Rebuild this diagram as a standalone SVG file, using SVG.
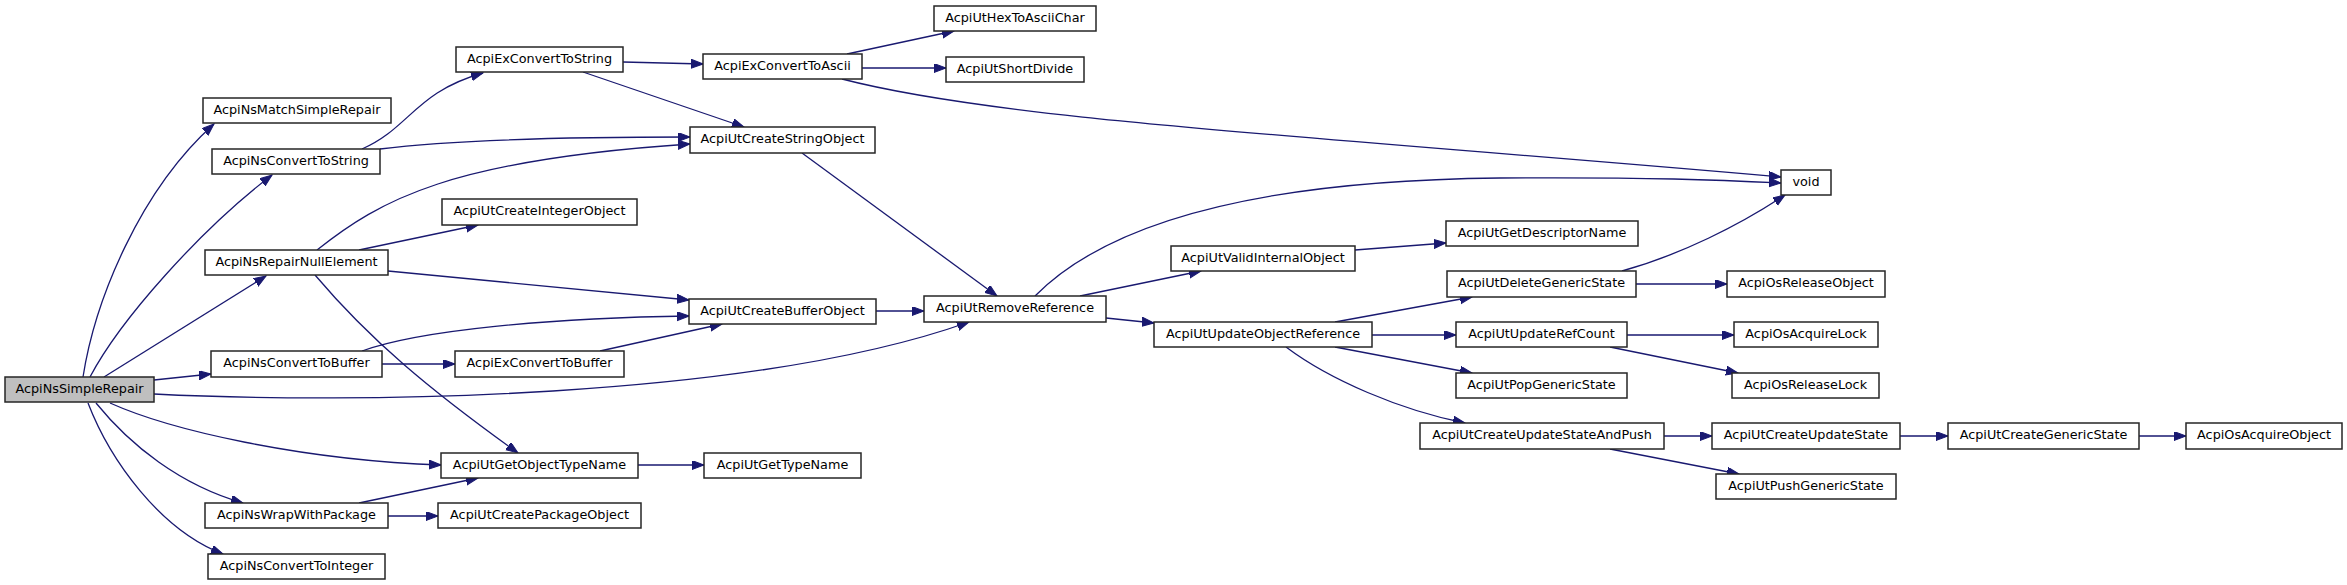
<svg xmlns="http://www.w3.org/2000/svg" width="2347" height="585" viewBox="0 0 2347 585">
<style>
.n rect{fill:#fff;stroke:#262626;stroke-width:1.5}
.n.root rect{fill:#bfbfbf}
.n text{font-family:"DejaVu Sans",sans-serif;font-size:12.8px;fill:#000;text-anchor:middle}
.e path{fill:none;stroke:#191970;stroke-width:1.3;marker-end:url(#ah)}
</style>
<defs>
<marker id="ah" markerUnits="userSpaceOnUse" markerWidth="13" markerHeight="10" refX="12" refY="4.5" orient="auto">
<path d="M0,0 L12,4.5 L0,9 z" fill="#191970" stroke="#191970" stroke-width="1"/>
</marker>
</defs>
<rect width="2347" height="585" fill="#fff"/>
<g id="edges" class="e">
<path d="M83,377 C95,300 140,190 214,124"/>
<path d="M90,377 C120,320 200,230 272,175"/>
<path d="M104,377 L266,276"/>
<path d="M154,380 L211,374"/>
<path d="M154,394 C350,404 750,400 969,322"/>
<path d="M110,403 C170,430 300,460 441,465"/>
<path d="M96,403 C130,445 180,485 243,503"/>
<path d="M88,403 C110,460 160,530 223,554"/>
<path d="M362,149 C410,128 415,92 483,73"/>
<path d="M380,149 C450,140 550,137 690,137"/>
<path d="M317,250 C380,200 450,160 690,144"/>
<path d="M359,250 L478,225"/>
<path d="M388,271 L689,300"/>
<path d="M315,275 C370,340 430,390 518,453"/>
<path d="M362,351 C420,330 550,318 689,316"/>
<path d="M382,364 L455,364"/>
<path d="M600,351 L722,324"/>
<path d="M359,503 L478,478"/>
<path d="M388,516 L438,516"/>
<path d="M638,465 L704,465"/>
<path d="M623,62 L703,64"/>
<path d="M583,72 L744,127"/>
<path d="M847,54 L954,31"/>
<path d="M862,68 L946,68"/>
<path d="M842,79 C1000,120 1300,135 1781,177"/>
<path d="M802,153 L997,296"/>
<path d="M876,311 L924,311"/>
<path d="M1035,296 C1120,210 1300,180 1500,178 C1650,177 1720,180 1781,183"/>
<path d="M1080,296 L1201,271"/>
<path d="M1106,318 L1154,323"/>
<path d="M1355,250 L1446,243"/>
<path d="M1335,322 L1472,297"/>
<path d="M1372,335 L1456,335"/>
<path d="M1335,347 L1472,373"/>
<path d="M1286,347 C1330,380 1400,410 1465,423"/>
<path d="M1622,271 C1680,255 1740,225 1785,195"/>
<path d="M1636,284 L1727,284"/>
<path d="M1627,335 L1734,335"/>
<path d="M1610,347 L1738,373"/>
<path d="M1664,436 L1712,436"/>
<path d="M1610,449 L1739,474"/>
<path d="M1900,436 L1948,436"/>
<path d="M2139,436 L2186,436"/>
</g>
<g id="n0" class="n root"><rect x="5" y="377" width="149" height="25"/><text x="79.5" y="392.5">AcpiNsSimpleRepair</text></g>
<g id="n1" class="n"><rect x="203" y="98" width="188" height="25"/><text x="297" y="113.5">AcpiNsMatchSimpleRepair</text></g>
<g id="n2" class="n"><rect x="212" y="149" width="168" height="25"/><text x="296" y="164.5">AcpiNsConvertToString</text></g>
<g id="n3" class="n"><rect x="205" y="250" width="183" height="25"/><text x="296.5" y="265.5">AcpiNsRepairNullElement</text></g>
<g id="n4" class="n"><rect x="211" y="351" width="171" height="26"/><text x="296.5" y="366.5">AcpiNsConvertToBuffer</text></g>
<g id="n5" class="n"><rect x="205" y="503" width="183" height="25"/><text x="296.5" y="518.5">AcpiNsWrapWithPackage</text></g>
<g id="n6" class="n"><rect x="208" y="554" width="177" height="25"/><text x="296.5" y="569.5">AcpiNsConvertToInteger</text></g>
<g id="n7" class="n"><rect x="456" y="47" width="167" height="25"/><text x="539.5" y="62.5">AcpiExConvertToString</text></g>
<g id="n8" class="n"><rect x="442" y="199" width="195" height="26"/><text x="539.5" y="214.5">AcpiUtCreateIntegerObject</text></g>
<g id="n9" class="n"><rect x="455" y="351" width="169" height="26"/><text x="539.5" y="366.5">AcpiExConvertToBuffer</text></g>
<g id="n10" class="n"><rect x="441" y="453" width="197" height="25"/><text x="539.5" y="468.5">AcpiUtGetObjectTypeName</text></g>
<g id="n11" class="n"><rect x="438" y="503" width="203" height="25"/><text x="539.5" y="518.5">AcpiUtCreatePackageObject</text></g>
<g id="n12" class="n"><rect x="703" y="54" width="159" height="25"/><text x="782.5" y="69.5">AcpiExConvertToAscii</text></g>
<g id="n13" class="n"><rect x="690" y="127" width="185" height="26"/><text x="782.5" y="142.5">AcpiUtCreateStringObject</text></g>
<g id="n14" class="n"><rect x="689" y="299" width="187" height="25"/><text x="782.5" y="314.5">AcpiUtCreateBufferObject</text></g>
<g id="n15" class="n"><rect x="704" y="453" width="157" height="25"/><text x="782.5" y="468.5">AcpiUtGetTypeName</text></g>
<g id="n16" class="n"><rect x="934" y="6" width="162" height="25"/><text x="1015" y="21.5">AcpiUtHexToAsciiChar</text></g>
<g id="n17" class="n"><rect x="946" y="57" width="138" height="25"/><text x="1015" y="72.5">AcpiUtShortDivide</text></g>
<g id="n18" class="n"><rect x="924" y="296" width="182" height="26"/><text x="1015" y="311.5">AcpiUtRemoveReference</text></g>
<g id="n19" class="n"><rect x="1171" y="246" width="184" height="25"/><text x="1263" y="261.5">AcpiUtValidInternalObject</text></g>
<g id="n20" class="n"><rect x="1154" y="322" width="218" height="25"/><text x="1263" y="337.5">AcpiUtUpdateObjectReference</text></g>
<g id="n21" class="n"><rect x="1781" y="170" width="50" height="25"/><text x="1806" y="185.5">void</text></g>
<g id="n22" class="n"><rect x="1446" y="221" width="192" height="25"/><text x="1542" y="236.5">AcpiUtGetDescriptorName</text></g>
<g id="n23" class="n"><rect x="1447" y="271" width="189" height="26"/><text x="1541.5" y="286.5">AcpiUtDeleteGenericState</text></g>
<g id="n24" class="n"><rect x="1456" y="322" width="171" height="25"/><text x="1541.5" y="337.5">AcpiUtUpdateRefCount</text></g>
<g id="n25" class="n"><rect x="1456" y="373" width="171" height="25"/><text x="1541.5" y="388.5">AcpiUtPopGenericState</text></g>
<g id="n26" class="n"><rect x="1420" y="423" width="244" height="26"/><text x="1542" y="438.5">AcpiUtCreateUpdateStateAndPush</text></g>
<g id="n27" class="n"><rect x="1727" y="271" width="158" height="26"/><text x="1806" y="286.5">AcpiOsReleaseObject</text></g>
<g id="n28" class="n"><rect x="1734" y="322" width="144" height="25"/><text x="1806" y="337.5">AcpiOsAcquireLock</text></g>
<g id="n29" class="n"><rect x="1732" y="373" width="147" height="25"/><text x="1805.5" y="388.5">AcpiOsReleaseLock</text></g>
<g id="n30" class="n"><rect x="1712" y="423" width="188" height="26"/><text x="1806" y="438.5">AcpiUtCreateUpdateState</text></g>
<g id="n31" class="n"><rect x="1716" y="474" width="180" height="25"/><text x="1806" y="489.5">AcpiUtPushGenericState</text></g>
<g id="n32" class="n"><rect x="1948" y="423" width="191" height="26"/><text x="2043.5" y="438.5">AcpiUtCreateGenericState</text></g>
<g id="n33" class="n"><rect x="2186" y="423" width="156" height="26"/><text x="2264" y="438.5">AcpiOsAcquireObject</text></g>
</svg>
